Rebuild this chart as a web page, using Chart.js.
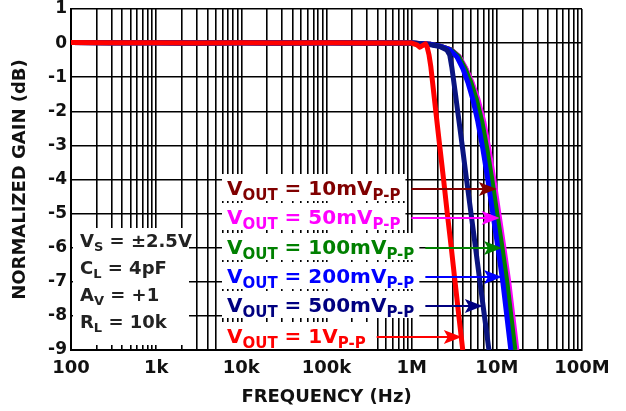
<!DOCTYPE html>
<html>
<head>
<meta charset="utf-8">
<script src="https://cdn.jsdelivr.net/npm/chart.js@4.4.0/dist/chart.umd.min.js"></script>
<style>
  html, body { margin: 0; padding: 0; background: #fff; }
</style>
</head>
<body>
<canvas id="chart" width="626" height="411"></canvas>
<script>
// **Data

let decadeValues = [1e2, 1e3, 1e4, 1e5, 1e6, 1e7, 1e8];
let decadeLabels = ['100', '1k', '10k', '100k', '1M', '10M', '100M'];
let gainTicks = [1, 0, -1, -2, -3, -4, -5, -6, -7, -8, -9];

// flat part, shared by every curve
let flatFreq = [100, 300, 1e3, 3e3, 1e4, 3e4, 1e5, 3e5, 1e6];
let flatGain = [0.02, 0.01, 0.01, 0, 0.01, 0, 0.01, 0, 0];

// roll-off of each curve (Hz, dB)
let freq1V = [1.15e6, 1.25e6, 1.45e6, 1.52e6, 1.6e6, 1.68e6, 1.92e6, 2.13e6, 2.37e6, 2.62e6, 2.92e6, 3.23e6, 3.58e6, 3.98e6];
let gain1V = [-0.05, -0.12, -0.02, -0.12, -0.35, -0.7, -2, -3, -4, -5, -6, -7, -8, -9];

let freq500mV = [1.5e6, 2.14e6, 2.59e6, 2.8e6, 2.96e6, 3.27e6, 3.47e6, 3.92e6, 4.41e6, 4.98e6, 5.62e6, 6.33e6, 7.15e6, 8.08e6];
let gain500mV = [-0.03, -0.1, -0.2, -0.35, -0.7, -1.5, -2, -3, -4, -5, -6, -7, -8, -9];

// the four small-signal curves share the gain steps
let rollGain = [-0.03, -0.09, -0.2, -0.4, -0.75, -1.15, -1.65, -2.3, -3.1, -4.0, -5.0, -6.0, -7.0, -8.0, -9.0];
let freq200mV = [1.64e6, 2.14e6, 2.81e6, 3.39e6, 3.99e6, 4.57e6, 5.23e6, 5.98e6, 6.85e6, 7.84e6, 8.98e6, 10.3e6, 11.75e6, 13.1e6, 14.6e6];
let freq100mV = [1.64e6, 2.14e6, 2.89e6, 3.56e6, 4.23e6, 4.94e6, 5.75e6, 6.66e6, 7.63e6, 8.73e6, 10.0e6, 11.5e6, 13.1e6, 14.6e6, 16.3e6];
let freq50mV = [1.64e6, 2.14e6, 2.92e6, 3.63e6, 4.35e6, 5.12e6, 6.01e6, 7.03e6, 8.06e6, 9.22e6, 10.56e6, 12.1e6, 13.8e6, 15.4e6, 17.2e6];
let freq10mV = [1.64e6, 2.14e6, 2.91e6, 3.59e6, 4.31e6, 5.03e6, 5.91e6, 6.88e6, 7.88e6, 9.02e6, 10.33e6, 11.85e6, 13.5e6, 15.1e6, 16.8e6];

// labels + arrows pointing at the curves
let labelValues = ['10mV', '50mV', '100mV', '200mV', '500mV', '1V'];
let labelColors = ['#800000', '#ff00ff', '#008000', '#0000ff', '#000080', '#ff0000'];
let arrowTipFreq = [10.0e6, 10.8e6, 11.5e6, 11.5e6, 6.85e6, 3.88e6];
let arrowTipGain = [-4.29, -5.12, -6.0, -6.85, -7.7, -8.62];

let conditionMain = ['V', 'C', 'A', 'R'];
let conditionSub = ['S', 'L', 'V', 'L'];
let conditionRest = [' = \u00b12.5V', ' = 4pF', ' = +1', ' = 10k'];

//** Helper functions **/

function toPoints(freqs, gains) {
  let pts = flatFreq.map((f, i) => ({ x: f, y: flatGain[i] }));
  for (let i = 0; i < freqs.length; i++) {
    pts.push({ x: freqs[i], y: gains[i] });
  }
  return pts;
}

function curve(freqs, gains, color, order) {
  return {
    data: toPoints(freqs, gains),
    borderColor: color,
    borderWidth: 5,
    pointRadius: 0,
    tension: 0,
    borderJoinStyle: 'round',
    order: order
  };
}

function xTickValues() {
  let vals = [];
  for (let d = 0; d < decadeValues.length; d++) {
    vals.push(decadeValues[d]);
    if (d < decadeValues.length - 1) {
      for (let m = 2; m <= 9; m++) vals.push(decadeValues[d] * m);
    }
  }
  return vals;
}

const FONT = '"DejaVu Sans", Verdana, sans-serif';

// draws text pieces, every second piece is a subscript
function drawRich(ctx, pieces, x, y, size, subSize, subDrop) {
  for (let i = 0; i < pieces.length; i++) {
    let sub = i % 2 === 1;
    ctx.font = 'bold ' + (sub ? subSize : size) + 'px ' + FONT;
    ctx.fillText(pieces[i], x, sub ? y + subDrop : y);
    x += ctx.measureText(pieces[i]).width;
  }
  return x;
}

let notePlugin = {
  id: 'notes',
  beforeDatasetsDraw(chart) {
    let ctx = chart.ctx;
    let xs = chart.scales.x;
    let ys = chart.scales.y;
    ctx.save();
    // white box under test conditions
    ctx.fillStyle = '#fff';
    ctx.fillRect(xs.left + 2, 228, 116, 117);
    ctx.fillStyle = '#222';
    ctx.textBaseline = 'alphabetic';
    for (let i = 0; i < conditionMain.length; i++) {
      drawRich(ctx, [conditionMain[i], conditionSub[i], conditionRest[i]], 80, 247 + i * 27, 18, 13, 4);
    }
    // white boxes under the curve labels
    for (let i = 0; i < labelValues.length; i++) {
      let ay = Math.round(ys.getPixelForValue(arrowTipGain[i]));
      ctx.font = 'bold 20px ' + FONT;
      let w = ctx.measureText('V').width + ctx.measureText(' = ' + labelValues[i]).width;
      ctx.font = 'bold 15px ' + FONT;
      w += ctx.measureText('OUT').width + ctx.measureText('P-P').width;
      ctx.fillStyle = '#fff';
      ctx.fillRect(222, ay - 15, w + 10, 27);
    }
    ctx.restore();
  },
  afterDatasetsDraw(chart) {
    let ctx = chart.ctx;
    let xs = chart.scales.x;
    let ys = chart.scales.y;
    ctx.save();
    ctx.textBaseline = 'alphabetic';
    for (let i = 0; i < labelValues.length; i++) {
      let ay = Math.round(ys.getPixelForValue(arrowTipGain[i]));
      let tipX = xs.getPixelForValue(arrowTipFreq[i]);
      ctx.fillStyle = labelColors[i];
      let endX = drawRich(ctx, ['V', 'OUT', ' = ' + labelValues[i], 'P-P'], 227, ay + 6, 20, 15, 5);
      let startX = endX + 11;
      // arrow shaft
      ctx.strokeStyle = labelColors[i];
      ctx.lineWidth = 2;
      ctx.beginPath();
      ctx.moveTo(startX, ay);
      ctx.lineTo(tipX - 12, ay);
      ctx.stroke();
      // arrow head
      ctx.beginPath();
      ctx.moveTo(tipX, ay);
      ctx.lineTo(tipX - 18, ay - 7);
      ctx.lineTo(tipX - 14, ay);
      ctx.lineTo(tipX - 18, ay + 7);
      ctx.closePath();
      ctx.fill();
    }
    ctx.restore();
  }
};

//Executable Code

let canvas = document.getElementById('chart');

let chart = new Chart(canvas, {
  type: 'line',
  data: {
    datasets: [
      curve(freq1V, gain1V, '#ff0000', 0),
      curve(freq500mV, gain500mV, '#0a1480', 1),
      curve(freq200mV, rollGain, '#0000ff', 2),
      curve(freq100mV, rollGain, '#008000', 3),
      curve(freq50mV, rollGain, '#ff00ff', 4),
      curve(freq10mV, rollGain, '#800000', 5)
    ]
  },
  options: {
    responsive: false,
    animation: false,
    layout: { padding: { top: 9, right: 44, left: 0, bottom: 0 } },
    plugins: { legend: { display: false }, tooltip: { enabled: false } },
    scales: {
      x: {
        type: 'logarithmic',
        min: 100,
        max: 1e8,
        afterBuildTicks: (scale) => {
          scale.ticks = xTickValues().map(v => ({ value: v }));
        },
        afterFit: (scale) => {
          scale.height = 61;
          scale.paddingLeft = 0;
          scale.paddingRight = 0;
        },
        ticks: {
          autoSkip: false,
          maxRotation: 0,
          padding: 8,
          color: '#111',
          font: { family: FONT, size: 18, weight: 'bold' },
          callback: (v) => {
            let idx = decadeValues.indexOf(v);
            return idx >= 0 ? decadeLabels[idx] : '';
          }
        },
        grid: { color: '#000', lineWidth: 1.6, drawTicks: false },
        border: { color: '#000', width: 2 },
        title: {
          display: true,
          text: 'FREQUENCY (Hz)',
          color: '#111',
          font: { family: FONT, size: 18, weight: 'bold' },
          padding: { top: 0, bottom: 3 }
        }
      },
      y: {
        min: -9,
        max: 1,
        afterBuildTicks: (scale) => {
          scale.ticks = gainTicks.map(v => ({ value: v }));
        },
        afterFit: (scale) => {
          scale.width = 71;
          scale.paddingTop = 0;
          scale.paddingBottom = 0;
        },
        ticks: {
          padding: 4,
          color: '#111',
          font: { family: FONT, size: 17, weight: 'bold' },
          callback: (v) => String(v)
        },
        grid: { color: '#000', lineWidth: 1.6, drawTicks: false },
        border: { color: '#000', width: 2 },
        title: {
          display: true,
          text: 'NORMALIZED GAIN (dB)',
          color: '#111',
          font: { family: FONT, size: 18, weight: 'bold' },
          padding: { top: 10, bottom: 0 }
        }
      }
    }
  },
  plugins: [notePlugin]
});
</script>
</body>
</html>
